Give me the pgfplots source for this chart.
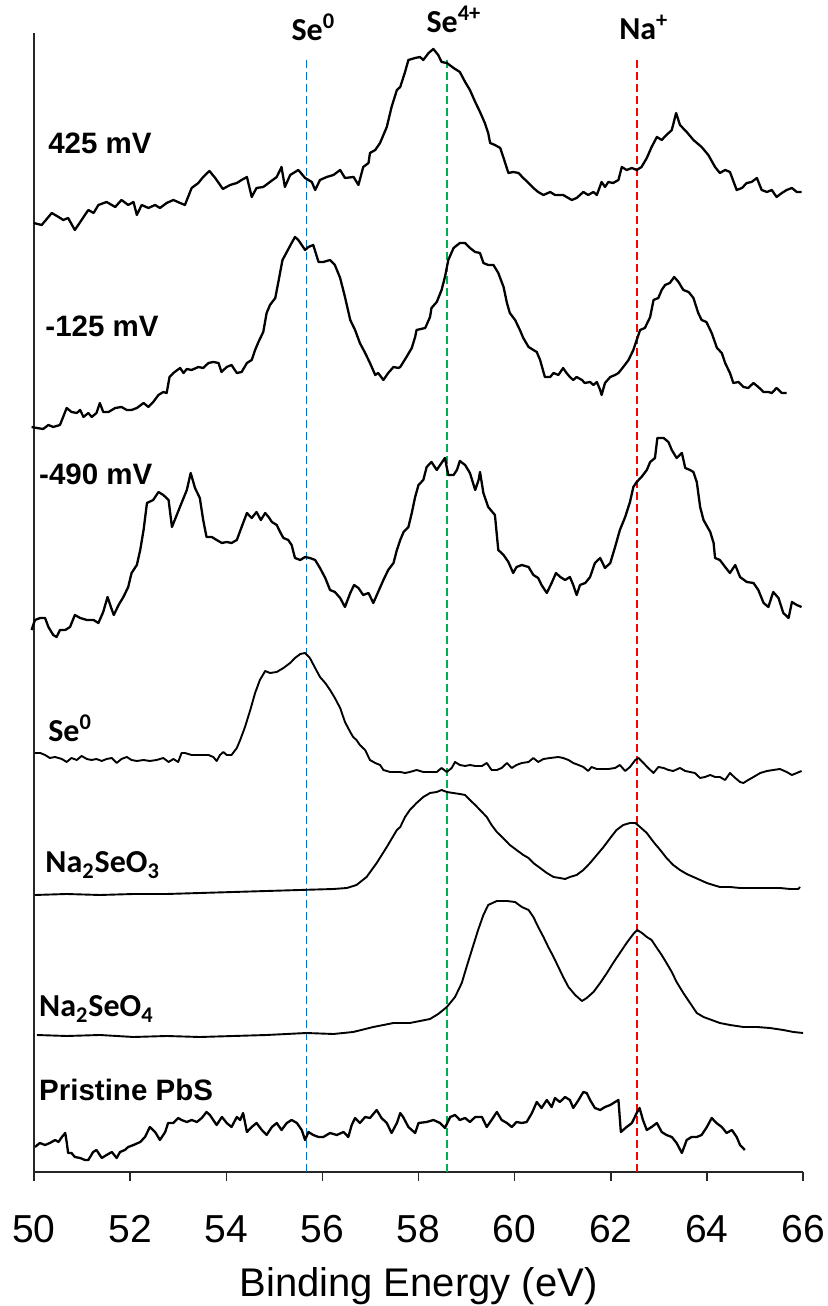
\documentclass[border=0pt]{standalone}
\usepackage{fontspec}
\setmainfont{Liberation Sans}
\newfontfamily\calibri{Carlito}
\usepackage{pgfplots}
\pgfplotsset{compat=1.18}

\definecolor{seblue}{RGB}{0,112,192}
\definecolor{segreen}{RGB}{0,176,80}
\definecolor{nared}{RGB}{255,0,0}

\begin{document}
\begin{tikzpicture}
\useasboundingbox (0,0) rectangle (414bp,653bp);
\begin{axis}[
    at={(17bp,67bp)}, anchor=south west,
    scale only axis, width=384.5bp, height=569.5bp,
    xmin=50, xmax=66, ymin=0, ymax=1139,
    axis x line=bottom, axis y line=left,
    axis line style={-, line width=0.75bp, black!85},
    xtick={50,52,...,66}, ytick=\empty,
    tick align=outside, major tick length=4.5bp,
    tick style={line width=0.75bp, black!85},
    xticklabel style={font=\fontsize{19.5bp}{20bp}\selectfont, anchor=base, yshift=-30.5bp},
    /pgf/number format/assume math mode=true,
    xlabel={Binding Energy (eV)},
    xlabel style={font=\fontsize{20bp}{22bp}\selectfont,
                  at={(axis description cs:0.5,0)}, anchor=base, yshift=-62bp},
    clip=false,
    every axis plot/.append style={line join=round},
]

% reference positions
\addplot[seblue, line width=0.9bp, dash pattern=on 4bp off 2bp] coordinates {(55.67,0) (55.67,1115)};
\addplot[segreen, line width=0.9bp, dash pattern=on 4bp off 2bp] coordinates {(58.59,0) (58.59,1115)};
\addplot[nared, line width=0.9bp, dash pattern=on 4bp off 2bp] coordinates {(62.55,0) (62.55,1115)};

% 425 mV
\addplot[black, line width=1.15bp] coordinates {
(49.99,949) (50.16,947) (50.37,959) (50.51,955) (50.61,952) (50.71,954) (50.85,942) (50.99,952) (51.13,962) (51.24,959)
(51.34,967) (51.51,970) (51.69,965) (51.82,972) (51.96,967) (52.07,970) (52.14,957) (52.24,967) (52.38,964) (52.52,967)
(52.62,964) (52.76,969) (52.90,972) (53.04,969) (53.14,967) (53.28,984) (53.42,989) (53.52,995) (53.65,1001) (53.77,994)
(53.93,983) (54.08,987) (54.22,989) (54.32,992) (54.43,995) (54.53,975) (54.63,984) (54.77,985) (54.91,990) (55.05,995)
(55.15,1005) (55.22,985) (55.33,997) (55.50,1002) (55.64,994) (55.78,990) (55.85,982) (55.95,992) (56.09,995) (56.23,997)
(56.37,1002) (56.47,994) (56.65,995) (56.75,987) (56.85,1005) (56.96,1009) (56.99,1019) (57.10,1022) (57.20,1029) (57.34,1045)
(57.44,1065) (57.55,1082) (57.62,1085) (57.72,1100) (57.79,1112) (57.93,1114) (58.03,1115) (58.10,1112) (58.21,1119) (58.31,1123)
(58.41,1117) (58.48,1110) (58.59,1109) (58.73,1104) (58.86,1100) (58.97,1090) (59.07,1082) (59.18,1070) (59.28,1060) (59.38,1049)
(59.45,1039) (59.49,1029) (59.59,1027) (59.70,1024) (59.77,1014) (59.87,999) (59.97,1000) (60.08,999) (60.18,994) (60.29,989)
(60.39,984) (60.49,980) (60.60,977) (60.74,980) (60.84,977) (61.01,977) (61.08,975) (61.19,972) (61.29,974) (61.43,980)
(61.53,977) (61.64,980) (61.71,977) (61.81,990) (61.88,985) (61.95,990) (62.05,989) (62.16,992) (62.23,1005) (62.33,1002)
(62.44,1004) (62.54,1002) (62.64,1005) (62.75,1014) (62.85,1025) (62.96,1035) (63.06,1032) (63.16,1037) (63.27,1042) (63.36,1059)
(63.44,1047) (63.58,1040) (63.72,1032) (63.89,1025) (64.03,1017) (64.17,1005) (64.27,999) (64.38,1002) (64.48,1000) (64.62,982)
(64.73,984) (64.83,989) (64.93,990) (65.04,994) (65.14,982) (65.25,980) (65.35,982) (65.45,975) (65.56,979) (65.66,982)
(65.77,984) (65.87,980) (65.97,980)
};

% -125 mV
\addplot[black, line width=1.15bp] coordinates {
(49.95,745) (50.06,744) (50.19,743) (50.30,747) (50.40,745) (50.54,747) (50.68,764) (50.78,760) (50.89,759) (50.96,762)
(51.03,755) (51.13,759) (51.20,755) (51.30,759) (51.37,769) (51.44,760) (51.55,760) (51.69,764) (51.82,765) (51.93,762)
(52.03,762) (52.14,764) (52.28,769) (52.38,765) (52.48,770) (52.59,777) (52.69,780) (52.76,779) (52.82,795) (52.90,799)
(53.04,804) (53.11,799) (53.18,803) (53.28,802) (53.42,805) (53.52,804) (53.63,809) (53.73,810) (53.84,809) (53.90,800)
(54.01,805) (54.11,807) (54.22,799) (54.32,800) (54.43,809) (54.53,812) (54.60,822) (54.67,830) (54.77,840) (54.84,859)
(54.91,867) (55.02,874) (55.08,889) (55.17,912) (55.26,920) (55.36,929) (55.43,935) (55.50,932) (55.57,927) (55.64,922)
(55.71,925) (55.81,927) (55.92,910) (56.02,910) (56.16,912) (56.26,907) (56.37,894) (56.47,875) (56.58,852) (56.68,842)
(56.78,829) (56.89,819) (56.99,809) (57.10,797) (57.16,799) (57.27,792) (57.37,799) (57.48,805) (57.58,804) (57.62,805)
(57.75,815) (57.86,824) (57.93,835) (57.96,842) (58.14,844) (58.24,855) (58.27,864) (58.38,870) (58.48,882) (58.55,895)
(58.62,912) (58.73,924) (58.86,929) (58.97,929) (59.07,924) (59.18,920) (59.28,919) (59.35,909) (59.45,907) (59.56,907)
(59.66,899) (59.77,885) (59.84,869) (59.90,859) (60.01,852) (60.11,842) (60.18,834) (60.29,825) (60.39,822) (60.46,820)
(60.53,812) (60.60,800) (60.63,795) (60.74,795) (60.81,799) (60.91,797) (61.01,804) (61.08,799) (61.15,795) (61.22,792)
(61.29,795) (61.40,792) (61.46,789) (61.57,790) (61.64,787) (61.71,790) (61.78,782) (61.81,777) (61.88,789) (61.99,795)
(62.09,797) (62.16,799) (62.26,805) (62.37,812) (62.47,822) (62.54,832) (62.61,842) (62.71,844) (62.82,855) (62.89,872)
(62.99,874) (63.06,882) (63.13,887) (63.23,889) (63.32,895) (63.41,890) (63.51,882) (63.62,880) (63.72,874) (63.82,859)
(63.89,852) (63.99,850) (64.10,839) (64.21,824) (64.31,819) (64.38,809) (64.48,799) (64.55,789) (64.66,790) (64.76,785)
(64.86,784) (64.97,789) (65.07,785) (65.18,780) (65.28,780) (65.35,779) (65.45,784) (65.56,779) (65.66,779)
};

% -490 mV
\addplot[black, line width=1.15bp] coordinates {
(49.95,542) (50.02,552) (50.13,554) (50.23,554) (50.30,545) (50.40,537) (50.47,535) (50.54,542) (50.65,542) (50.75,545)
(50.85,557) (50.96,554) (51.10,552) (51.24,552) (51.34,549) (51.44,560) (51.53,575) (51.60,565) (51.66,557) (51.76,567)
(51.86,575) (51.96,585) (52.03,599) (52.14,607) (52.21,622) (52.28,642) (52.35,669) (52.48,672) (52.59,680) (52.69,677)
(52.80,672) (52.87,645) (52.97,657) (53.07,669) (53.18,682) (53.26,699) (53.35,684) (53.45,674) (53.52,652) (53.59,635)
(53.70,635) (53.80,632) (53.91,629) (54.01,630) (54.11,629) (54.22,632) (54.32,645) (54.43,659) (54.53,654) (54.63,660)
(54.72,652) (54.81,659) (54.88,655) (54.95,650) (55.05,647) (55.12,640) (55.19,634) (55.29,632) (55.36,627) (55.43,614)
(55.54,612) (55.64,615) (55.74,614) (55.85,612) (55.95,604) (56.06,594) (56.16,582) (56.26,580) (56.37,574) (56.47,565)
(56.58,579) (56.66,587) (56.75,584) (56.85,577) (56.96,579) (57.06,569) (57.16,580) (57.27,592) (57.37,602) (57.48,609)
(57.55,622) (57.62,632) (57.69,640) (57.79,645) (57.86,659) (57.93,675) (58.00,687) (58.10,692) (58.17,705) (58.27,710)
(58.38,702) (58.45,707) (58.55,714) (58.62,697) (58.73,697) (58.80,702) (58.86,711) (58.97,707) (59.07,699) (59.18,682)
(59.25,692) (59.28,700) (59.35,679) (59.45,665) (59.59,657) (59.66,622) (59.77,617) (59.87,610) (59.97,599) (60.04,605)
(60.15,607) (60.29,605) (60.39,597) (60.49,594) (60.56,587) (60.67,579) (60.77,589) (60.86,599) (60.95,595) (61.05,592)
(61.15,595) (61.22,587) (61.29,577) (61.36,587) (61.47,589) (61.57,595) (61.67,609) (61.78,614) (61.88,604) (61.99,609)
(62.09,625) (62.19,642) (62.30,655) (62.40,670) (62.47,685) (62.54,690) (62.64,695) (62.75,702) (62.82,710) (62.92,714)
(62.97,734) (63.10,734) (63.20,730) (63.27,722) (63.37,714) (63.48,719) (63.55,704) (63.65,702) (63.72,700) (63.79,690)
(63.86,665) (63.93,652) (64.07,640) (64.14,629) (64.17,614) (64.27,612) (64.38,605) (64.48,599) (64.59,607) (64.69,595)
(64.83,590) (64.97,589) (65.07,582) (65.18,569) (65.28,565) (65.38,580) (65.49,574) (65.59,559) (65.70,554) (65.77,570)
(65.87,567) (65.97,565)
};

% Se0 standard
\addplot[black, line width=0.95bp] coordinates {
(50.02,419) (50.13,419) (50.23,417) (50.33,414) (50.44,415) (50.58,413) (50.68,410) (50.78,414) (50.89,412) (50.99,416)
(51.10,413) (51.20,412) (51.30,413) (51.41,411) (51.51,413) (51.62,414) (51.72,409) (51.82,413) (51.93,415) (52.03,412)
(52.14,411) (52.28,412) (52.41,411) (52.55,412) (52.69,414) (52.80,410) (52.90,413) (53.00,410) (53.07,419) (53.14,419)
(53.28,417) (53.45,417) (53.63,417) (53.73,415) (53.80,411) (53.87,417) (53.94,420) (54.01,417) (54.11,417) (54.22,424)
(54.29,432) (54.39,445) (54.50,462) (54.60,479) (54.70,492) (54.81,501) (54.91,499) (55.05,500) (55.19,504) (55.33,509)
(55.43,514) (55.54,518) (55.64,519) (55.74,514) (55.85,504) (55.95,495) (56.06,489) (56.16,482) (56.26,474) (56.37,464)
(56.47,450) (56.58,440) (56.64,435) (56.71,432) (56.78,427) (56.89,422) (56.99,412) (57.10,409) (57.20,407) (57.27,402)
(57.41,400) (57.55,400) (57.62,400) (57.72,399) (57.82,400) (57.96,402) (58.10,400) (58.24,400) (58.38,400) (58.48,404)
(58.59,400) (58.69,404) (58.76,410) (58.86,407) (58.97,406) (59.07,407) (59.18,406) (59.32,406) (59.42,409) (59.52,402)
(59.63,402) (59.73,404) (59.84,409) (59.94,404) (60.04,407) (60.15,409) (60.29,410) (60.39,414) (60.49,410) (60.60,413)
(60.74,414) (60.91,415) (61.01,414) (61.12,412) (61.22,409) (61.33,407) (61.43,405) (61.53,401) (61.60,405) (61.71,403)
(61.81,403) (61.95,403) (62.09,404) (62.19,407) (62.30,401) (62.40,405) (62.51,412) (62.58,414) (62.68,409) (62.78,404)
(62.89,399) (62.99,405) (63.10,404) (63.20,402) (63.30,401) (63.44,404) (63.55,401) (63.65,400) (63.75,399) (63.86,394)
(63.96,395) (64.07,397) (64.17,395) (64.27,395) (64.38,392) (64.48,399) (64.59,394) (64.69,390) (64.76,389) (64.86,392)
(64.97,395) (65.11,399) (65.25,401) (65.38,402) (65.52,403) (65.66,400) (65.77,397) (65.87,399) (65.97,401)
};

% Na2SeO3 standard
\addplot[black, line width=0.95bp] coordinates {
(50.02,277) (50.68,278) (51.37,277) (52.07,278) (52.76,278) (53.45,279) (54.15,280) (54.84,281) (55.53,282) (56.23,283)
(56.51,284) (56.71,287) (56.92,295) (57.13,309) (57.34,325) (57.55,342) (57.62,345) (57.72,355) (57.82,362) (57.96,369)
(58.10,375) (58.24,379) (58.38,380) (58.48,382) (58.59,380) (58.72,379) (58.86,378) (58.97,377) (59.07,372) (59.18,367)
(59.32,360) (59.42,355) (59.52,347) (59.63,340) (59.76,334) (59.90,327) (60.04,322) (60.18,317) (60.29,314) (60.39,309)
(60.53,304) (60.67,299) (60.81,295) (60.94,294) (61.05,293) (61.15,295) (61.29,297) (61.43,302) (61.57,309) (61.71,317)
(61.85,325) (61.99,334) (62.12,342) (62.26,347) (62.40,349) (62.51,349) (62.61,345) (62.75,339) (62.89,330) (63.03,322)
(63.16,314) (63.30,307) (63.44,302) (63.58,298) (63.72,295) (63.86,292) (64.00,289) (64.13,287) (64.27,285) (64.48,285)
(64.69,284) (64.97,284) (65.25,284) (65.52,284) (65.73,283) (65.90,283) (65.94,285)
};

% Na2SeO4 standard
\addplot[black, line width=0.95bp] coordinates {
(50.06,137) (50.68,136) (51.37,137) (52.07,135) (52.76,136) (53.45,135) (54.15,136) (54.84,137) (55.67,139) (56.23,138)
(56.64,140) (57.06,145) (57.48,149) (57.62,149) (57.82,149) (58.03,151) (58.24,153) (58.41,158) (58.59,165) (58.76,175)
(58.90,189) (59.00,205) (59.11,222) (59.24,242) (59.35,257) (59.45,267) (59.63,271) (59.84,271) (60.01,270) (60.15,265)
(60.29,262) (60.39,255) (60.49,245) (60.60,235) (60.70,225) (60.81,215) (60.91,205) (61.01,195) (61.12,185) (61.26,177)
(61.40,171) (61.50,174) (61.64,180) (61.78,189) (61.92,199) (62.05,209) (62.19,219) (62.33,229) (62.47,238) (62.55,242)
(62.65,239) (62.75,235) (62.85,232) (62.96,224) (63.06,217) (63.16,209) (63.27,200) (63.37,190) (63.51,179) (63.65,169)
(63.79,159) (63.93,155) (64.10,152) (64.27,149) (64.48,147) (64.76,145) (65.04,145) (65.31,144) (65.59,142) (65.80,140)
(66.00,139)
};

% Pristine PbS
\addplot[black, line width=1.15bp] coordinates {
(50.02,25) (50.12,29) (50.23,27) (50.33,29) (50.44,32) (50.51,30) (50.58,35) (50.65,39) (50.68,30) (50.71,19)
(50.78,19) (50.85,15) (50.96,14) (51.06,12) (51.13,12) (51.23,20) (51.30,22) (51.41,14) (51.51,17) (51.62,20)
(51.72,14) (51.79,20) (51.89,22) (51.96,25) (52.07,27) (52.21,30) (52.31,35) (52.41,45) (52.52,40) (52.62,32)
(52.73,40) (52.79,49) (52.90,49) (53.00,54) (53.07,52) (53.18,50) (53.28,52) (53.39,50) (53.49,54) (53.59,60)
(53.66,57) (53.73,52) (53.80,47) (53.91,55) (54.01,49) (54.11,45) (54.22,55) (54.29,52) (54.35,59) (54.43,40)
(54.53,45) (54.63,49) (54.74,42) (54.84,37) (54.95,45) (55.05,49) (55.15,42) (55.26,49) (55.36,52) (55.47,49)
(55.57,42) (55.64,32) (55.71,40) (55.81,37) (55.92,35) (56.02,35) (56.16,39) (56.30,37) (56.44,40) (56.54,35)
(56.61,47) (56.68,54) (56.78,49) (56.89,55) (56.99,54) (57.13,62) (57.23,54) (57.34,49) (57.44,39) (57.55,49)
(57.62,59) (57.68,55) (57.79,45) (57.93,39) (58.00,49) (58.17,50) (58.31,52) (58.45,49) (58.55,44) (58.66,55)
(58.76,57) (58.86,52) (58.97,54) (59.07,50) (59.18,55) (59.32,55) (59.42,45) (59.52,52) (59.63,60) (59.73,52)
(59.84,49) (59.94,45) (60.04,50) (60.15,49) (60.25,50) (60.36,59) (60.46,70) (60.56,64) (60.67,72) (60.77,65)
(60.84,74) (60.94,70) (61.05,75) (61.15,72) (61.22,64) (61.33,72) (61.43,80) (61.50,79) (61.57,72) (61.67,64)
(61.78,62) (61.88,65) (61.99,67) (62.09,70) (62.16,72) (62.21,40) (62.33,45) (62.44,49) (62.54,59) (62.60,64)
(62.67,52) (62.75,42) (62.85,45) (62.96,49) (63.06,40) (63.16,37) (63.27,35) (63.37,29) (63.48,19) (63.58,32)
(63.68,35) (63.79,35) (63.89,37) (64.00,45) (64.10,54) (64.20,49) (64.31,45) (64.41,39) (64.52,42) (64.62,35)
(64.69,27) (64.79,22)
};

% curve labels
\node[anchor=base west, inner sep=0, font=\bfseries\fontsize{14.75bp}{16bp}\selectfont] at (axis cs:50.29,1018) {425 mV};
\node[anchor=base west, inner sep=0, font=\bfseries\fontsize{14.75bp}{16bp}\selectfont] at (axis cs:50.23,835) {-125 mV};
\node[anchor=base west, inner sep=0, font=\bfseries\fontsize{14.75bp}{16bp}\selectfont] at (axis cs:50.10,687) {-490 mV};
\node[anchor=base west, inner sep=0, font={\calibri\bfseries\fontsize{16bp}{18bp}\selectfont}] at (axis cs:50.29,430) {Se\textsuperscript{0}};
\node[anchor=base west, inner sep=0, font={\calibri\bfseries\fontsize{16bp}{18bp}\selectfont}] at (axis cs:50.23,299) {Na\textsubscript{2}SeO\textsubscript{3}};
\node[anchor=base west, inner sep=0, font={\calibri\bfseries\fontsize{16bp}{18bp}\selectfont}] at (axis cs:50.10,155) {Na\textsubscript{2}SeO\textsubscript{4}};
\node[anchor=base west, inner sep=0, font=\bfseries\fontsize{14.75bp}{16bp}\selectfont] at (axis cs:50.10,72) {Pristine PbS};

% peak labels
\node[anchor=base west, inner sep=0, font={\calibri\bfseries\fontsize{16bp}{18bp}\selectfont}] at (axis cs:55.35,1131) {Se\textsuperscript{0}};
\node[anchor=base west, inner sep=0, font={\calibri\bfseries\fontsize{16bp}{18bp}\selectfont}] at (axis cs:58.16,1139) {Se\textsuperscript{4+}};
\node[anchor=base west, inner sep=0, font={\calibri\bfseries\fontsize{16bp}{18bp}\selectfont}] at (axis cs:62.17,1132) {Na\textsuperscript{+}};

\end{axis}
\end{tikzpicture}
\end{document}
